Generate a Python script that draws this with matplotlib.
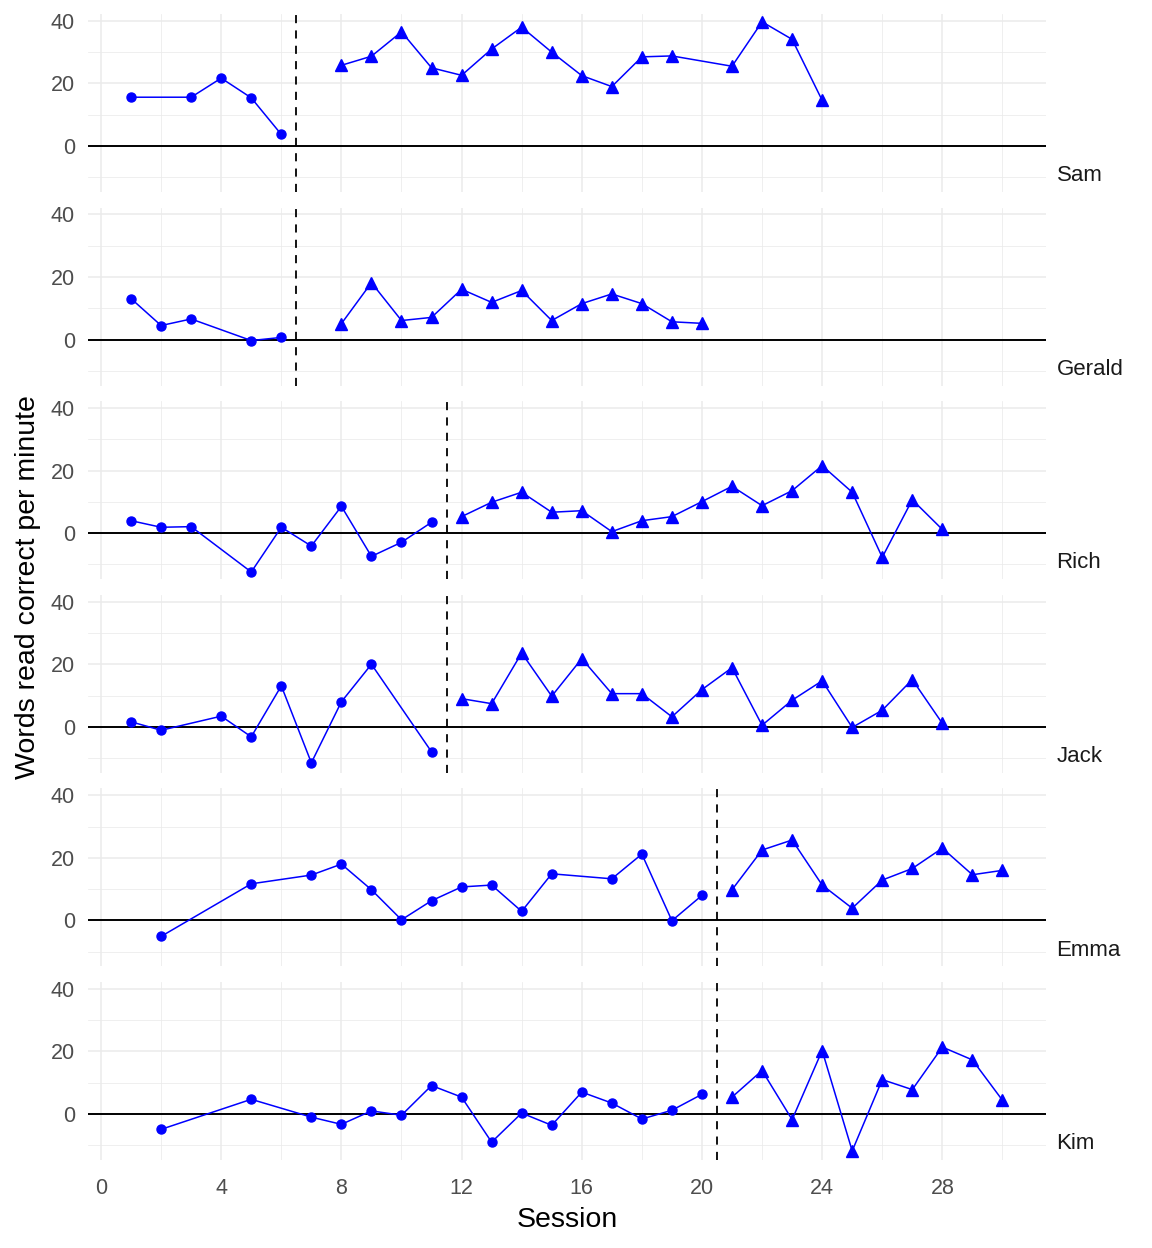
import matplotlib
matplotlib.use("Agg")
import matplotlib.pyplot as plt
from matplotlib.ticker import MultipleLocator

plt.rcParams["font.family"] = ["Liberation Sans", "DejaVu Sans"]

# ---------------- data ----------------
participants = ["Sam", "Gerald", "Rich", "Jack", "Emma", "Kim"]
phase_change = [6.5, 6.5, 11.5, 11.5, 20.5, 20.5]

sam_base_x = [1, 3, 4, 5, 6]
sam_base_y = [15.6, 15.6, 21.7, 15.4, 3.7]
sam_treat_x = [8, 9, 10, 11, 12, 13, 14, 15, 16, 17, 18, 19, 21, 22, 23, 24]
sam_treat_y = [25.8, 28.7, 36.5, 25.0, 22.6, 31.0, 38.0, 30.0, 22.5, 19.0, 28.5, 28.8, 25.5, 39.7, 34.1, 14.6]

gerald_base_x = [1, 2, 3, 5, 6]
gerald_base_y = [13.1, 4.5, 6.6, -0.3, 0.7]
gerald_treat_x = [8, 9, 10, 11, 12, 13, 14, 15, 16, 17, 18, 19, 20]
gerald_treat_y = [5.1, 18.2, 6.1, 7.1, 16.1, 11.9, 15.7, 6.1, 11.5, 14.6, 11.5, 5.7, 5.2]

rich_base_x = [1, 2, 3, 5, 6, 7, 8, 9, 10, 11]
rich_base_y = [4.0, 1.9, 2.1, -12.4, 1.9, -4.1, 8.6, -7.4, -2.9, 3.5]
rich_treat_x = [12, 13, 14, 15, 16, 17, 18, 19, 20, 21, 22, 23, 24, 25, 26, 27, 28]
rich_treat_y = [5.3, 9.9, 13.1, 6.7, 7.2, 0.5, 4.0, 5.3, 10.1, 15.0, 8.8, 13.6, 21.6, 13.1, -7.7, 10.7, 1.2]

jack_base_x = [1, 2, 4, 5, 6, 7, 8, 9, 11]
jack_base_y = [1.6, -1.1, 3.4, -3.2, 13.1, -11.5, 8.0, 20.0, -8.0]
jack_treat_x = [12, 13, 14, 15, 16, 17, 18, 19, 20, 21, 22, 23, 24, 25, 26, 27, 28]
jack_treat_y = [9.0, 7.4, 23.6, 9.8, 21.8, 10.6, 10.6, 3.2, 11.9, 18.9, 0.5, 8.5, 14.7, -0.2, 5.3, 15.1, 1.1]

emma_base_x = [2, 5, 7, 8, 9, 10, 11, 12, 13, 14, 15, 17, 18, 19, 20]
emma_base_y = [-5.1, 11.7, 14.5, 18.0, 9.8, 0.2, 6.3, 10.7, 11.3, 2.9, 14.9, 13.3, 21.2, -0.1, 8.0]
emma_treat_x = [21, 22, 23, 24, 25, 26, 27, 28, 29, 30]
emma_treat_y = [9.8, 22.5, 25.7, 11.3, 3.9, 12.9, 16.6, 23.1, 14.6, 16.0]

kim_base_x = [2, 5, 7, 8, 9, 10, 11, 12, 13, 14, 15, 16, 17, 18, 19, 20]
kim_base_y = [-4.9, 4.7, -1.0, -3.3, 1.0, -0.4, 9.1, 5.4, -9.0, 0.3, -3.6, 7.0, 3.5, -1.6, 1.2, 6.3]
kim_treat_x = [21, 22, 23, 24, 25, 26, 27, 28, 29, 30]
kim_treat_y = [5.4, 13.9, -1.8, 20.3, -11.8, 11.0, 7.8, 21.4, 17.3, 4.4]

baseline_x = [sam_base_x, gerald_base_x, rich_base_x, jack_base_x, emma_base_x, kim_base_x]
baseline_y = [sam_base_y, gerald_base_y, rich_base_y, jack_base_y, emma_base_y, kim_base_y]
treatment_x = [sam_treat_x, gerald_treat_x, rich_treat_x, jack_treat_x, emma_treat_x, kim_treat_x]
treatment_y = [sam_treat_y, gerald_treat_y, rich_treat_y, jack_treat_y, emma_treat_y, kim_treat_y]

x_ticks = [0, 4, 8, 12, 16, 20, 24, 28]
y_ticks = [0, 20, 40]

# ---------------- figure ----------------
W, H = 1152, 1248
fig = plt.figure(figsize=(W / 100, H / 100), dpi=100)
fig.patch.set_facecolor("white")

left_px, right_px = 87.5, 1046
top_px, bottom_px = 14, 1160
n = len(participants)
panel_h = 178.0
gap = (bottom_px - top_px - n * panel_h) / (n - 1)

grid_major = "#EBEBEB"
blue = "#0000FF"
tick_color = "#4D4D4D"

axes = []
for i, name in enumerate(participants):
    ptop = top_px + i * (panel_h + gap)
    ax = fig.add_axes([left_px / W, 1 - (ptop + panel_h) / H,
                       (right_px - left_px) / W, panel_h / H])
    axes.append(ax)
    ax.set_xlim(-0.45, 31.45)
    ax.set_ylim(-14.7, 42.2)
    ax.xaxis.set_major_locator(MultipleLocator(4))
    ax.xaxis.set_minor_locator(MultipleLocator(2))
    ax.yaxis.set_major_locator(MultipleLocator(20))
    ax.yaxis.set_minor_locator(MultipleLocator(10))
    ax.grid(which="major", color=grid_major, lw=1.1, zorder=0)
    ax.grid(which="minor", color=grid_major, lw=0.55, zorder=0)
    for s in ax.spines.values():
        s.set_visible(False)
    ax.tick_params(which="both", length=0, colors=tick_color, labelsize=15.5, pad=9)
    ax.set_yticks(y_ticks)
    ax.set_yticklabels([str(v) for v in y_ticks])
    ax.set_xticks(x_ticks)
    if i < n - 1:
        ax.tick_params(axis="x", labelbottom=False)
    else:
        ax.set_xticklabels([str(v) for v in x_ticks])
        ax.tick_params(axis="x", pad=13)

    ax.axhline(0, color="black", lw=1.4, zorder=2)
    ax.axvline(phase_change[i], color="black", lw=1.3, ls=(0, (4.5, 4)), zorder=2)

    ax.plot(baseline_x[i], baseline_y[i], color=blue, lw=1.1, marker="o",
            markersize=6.5, zorder=3)
    ax.plot(treatment_x[i], treatment_y[i], color=blue, lw=1.1, marker="^",
            markersize=8, zorder=3)

    ax.text(1.011, -9.5, name, transform=ax.get_yaxis_transform(),
            ha="left", va="center", fontsize=16, color="#1A1A1A")

fig.text(567 / W, 1 - 1220 / H, "Session", ha="center", va="center",
         fontsize=20.5, color="black")
fig.text(28 / W, 1 - 587 / H, "Words read correct per minute", ha="center",
         va="center", rotation=90, fontsize=20.5, color="black")

fig.savefig("out.png", dpi=100, facecolor="white")
